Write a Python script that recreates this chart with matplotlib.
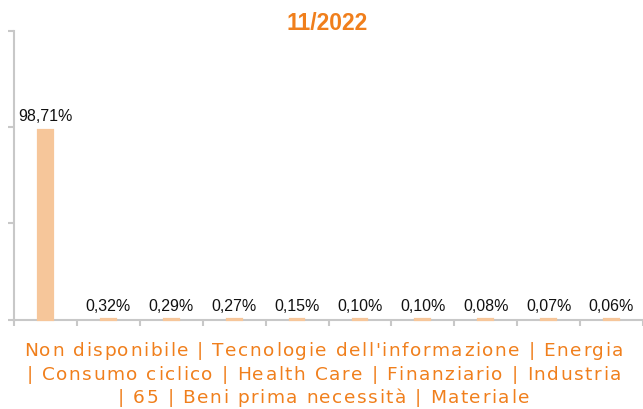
import matplotlib
matplotlib.use("Agg")
import matplotlib.pyplot as plt
from matplotlib.font_manager import FontProperties

categories = ["Non disponibile", "Tecnologie dell'informazione", "Energia",
              "Consumo ciclico", "Health Care", "Finanziario", "Industria",
              "65", "Beni prima necessità", "Materiale"]
values = [98.71, 0.32, 0.29, 0.27, 0.15, 0.10, 0.10, 0.08, 0.07, 0.06]
title = "11/2022"

ORANGE = "#f07f1c"
BAR = "#f6c69a"
GREY = "#c8c8c8"

W, H = 643, 409
fig = plt.figure(figsize=(W / 100, H / 100), dpi=100)
ax = fig.add_axes([14 / W, 1 - 319.5 / H, (W - 14) / W, (319.5 - 31) / H])

x = list(range(len(values)))
ax.bar(x, values, width=0.235, color=BAR, edgecolor=BAR, linewidth=1.6,
       clip_on=False, zorder=3)
ax.set_xlim(-0.5, len(values) - 0.5)
ax.set_ylim(0, 150)
ax.set_yticks([0, 50, 100, 150])
ax.set_yticklabels([])
ax.set_xticks([i - 0.5 for i in range(len(values) + 1)])
ax.set_xticklabels([])
ax.tick_params(axis="both", colors=GREY, length=4.5, width=1.5, direction="out")
for s in ["top", "right"]:
    ax.spines[s].set_visible(False)
for s in ["left", "bottom"]:
    ax.spines[s].set_color(GREY)
    ax.spines[s].set_linewidth(1.5)

for xi, v in zip(x, values):
    lbl = f"{v:.2f}".replace(".", ",") + "%"
    ax.annotate(lbl, (xi, v), xytext=(0, 6), textcoords="offset points",
                ha="center", va="baseline", fontsize=11.5,
                family="Liberation Sans", color="#111111")

fig.text(327 / W, 1 - 30 / H, title, ha="center", va="baseline",
         fontsize=16.5, fontweight="bold", family="Liberation Sans", color=ORANGE)

# combined category label, wrapped like the reference, drawn with letter spacing
groups = [categories[0:3], categories[3:7], categories[7:10]]
lines = []
for i, g in enumerate(groups):
    s = " | ".join(g)
    lines.append(s if i == 0 else "| " + s)

fp = FontProperties(family="DejaVu Sans", size=13.3)
renderer = fig.canvas.get_renderer()


def tw(s):
    return renderer.get_text_width_height_descent(s, fp, ismath=False)[0]


base = tw("HH")
spacing = 1.55  # px between characters
cx = 323.5
baselines = [356, 379.5, 403]
for line, yb in zip(lines, baselines):
    widths = [tw("H" + ch + "H") - base for ch in line]
    total = sum(widths) + spacing * (len(line) - 1)
    xpos = cx - total / 2
    for ch, w in zip(line, widths):
        if ch != " ":
            fig.text(xpos / W, 1 - yb / H, ch, ha="left", va="baseline",
                     fontproperties=fp, color=ORANGE)
        xpos += w + spacing

fig.savefig("out.png", dpi=100)
